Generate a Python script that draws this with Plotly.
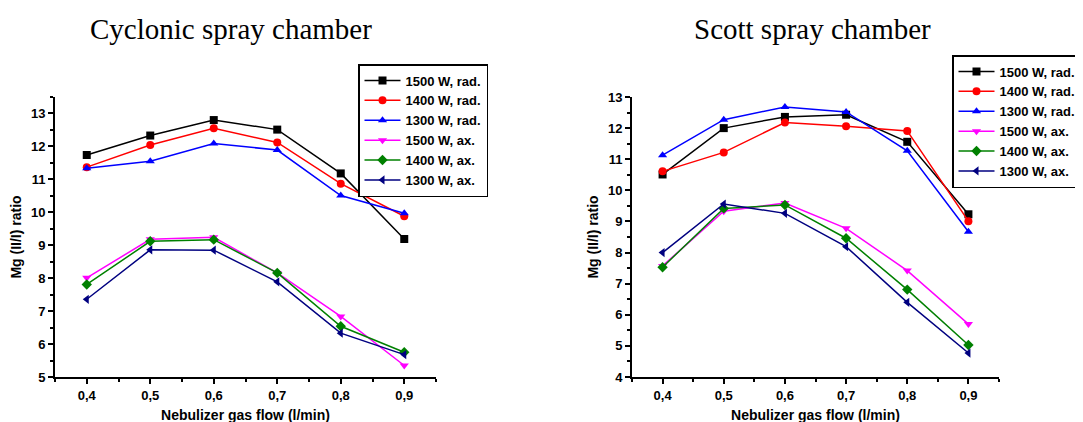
import plotly.graph_objects as go

x_flow = [0.4, 0.5, 0.6, 0.7, 0.8, 0.9]
x_tick_vals = [0.4, 0.5, 0.6, 0.7, 0.8, 0.9]
x_tick_text = ["0,4", "0,5", "0,6", "0,7", "0,8", "0,9"]

series_names = ["1500 W, rad.", "1400 W, rad.", "1300 W, rad.",
                "1500 W, ax.", "1400 W, ax.", "1300 W, ax."]

# Cyclonic spray chamber
cyc_1500_rad = [11.74, 12.33, 12.80, 12.51, 11.18, 9.19]
cyc_1400_rad = [11.37, 12.04, 12.55, 12.12, 10.87, 9.88]
cyc_1300_rad = [11.34, 11.55, 12.09, 11.89, 10.51, 9.97]
cyc_1500_ax = [8.01, 9.18, 9.24, 8.16, 6.84, 5.35]
cyc_1400_ax = [7.81, 9.12, 9.17, 8.16, 6.54, 5.75]
cyc_1300_ax = [7.36, 8.86, 8.85, 7.89, 6.33, 5.68]

# Scott spray chamber
sco_1500_rad = [10.51, 12.00, 12.36, 12.43, 11.56, 9.23]
sco_1400_rad = [10.61, 11.22, 12.18, 12.06, 11.91, 9.01]
sco_1300_rad = [11.13, 12.27, 12.68, 12.52, 11.27, 8.67]
sco_1500_ax = [7.57, 9.33, 9.59, 8.78, 7.42, 5.70]
sco_1400_ax = [7.53, 9.42, 9.53, 8.46, 6.81, 5.03]
sco_1300_ax = [8.00, 9.56, 9.26, 8.19, 6.40, 4.77]

left_y_ticks = [5, 6, 7, 8, 9, 10, 11, 12, 13]
right_y_ticks = [4, 5, 6, 7, 8, 9, 10, 11, 12, 13]

cyc_series = [cyc_1500_rad, cyc_1400_rad, cyc_1300_rad, cyc_1500_ax, cyc_1400_ax, cyc_1300_ax]
sco_series = [sco_1500_rad, sco_1400_rad, sco_1300_rad, sco_1500_ax, sco_1400_ax, sco_1300_ax]

colors = ["#000000", "#FF0000", "#0000FF", "#FF00FF", "#008000", "#000080"]
symbols = ["square", "circle", "triangle-up", "triangle-down", "diamond", "triangle-left"]

W, H = 1083, 422
OFF = 8  # page body margin offset


def px(x):
    return (x - OFF) / W


def py(y):
    return 1 - (y - OFF) / H


def b(t):
    return "<b>%s</b>" % t


fig = go.Figure()

for name, vals, c, s in zip(series_names, cyc_series, colors, symbols):
    fig.add_trace(go.Scatter(x=x_flow, y=vals, name=b(name), mode="lines+markers",
                             line=dict(color=c, width=1.5),
                             marker=dict(symbol=s, size=8, color=c),
                             xaxis="x", yaxis="y", legend="legend"))
for name, vals, c, s in zip(series_names, sco_series, colors, symbols):
    fig.add_trace(go.Scatter(x=x_flow, y=vals, name=b(name), mode="lines+markers",
                             line=dict(color=c, width=1.5),
                             marker=dict(symbol=s, size=8, color=c),
                             xaxis="x2", yaxis="y2", legend="legend2"))

FAM = "Arial, Liberation Sans"
tick_font = dict(family=FAM, size=13, color="black")
title_font = dict(family=FAM, size=14, color="black")
legend_font = dict(family=FAM, size=13, color="black")


def xaxis(domain, anchor):
    return dict(domain=domain, anchor=anchor, range=[0.35, 0.95],
                tickvals=x_tick_vals, ticktext=[b(t) for t in x_tick_text],
                ticks="outside", ticklen=5, tickwidth=1.5, tickcolor="black",
                showline=True, linecolor="black", linewidth=2,
                showgrid=False, zeroline=False,
                minor=dict(ticks="outside", dtick=0.05, tick0=0.35, ticklen=3,
                           tickwidth=1.5, tickcolor="black", showgrid=False),
                tickfont=tick_font,
                title=dict(text=b("Nebulizer gas flow (l/min)"), font=title_font, standoff=9))


def yaxis(domain, anchor, rng, tv):
    return dict(domain=domain, anchor=anchor, range=rng,
                tickvals=tv, ticktext=[b(v) for v in tv],
                ticks="outside", ticklen=5, tickwidth=1.5, tickcolor="black",
                showline=True, linecolor="black", linewidth=2,
                showgrid=False, zeroline=False,
                minor=dict(ticks="outside", dtick=0.5, ticklen=3,
                           tickwidth=1.5, tickcolor="black", showgrid=False),
                tickfont=tick_font,
                title=dict(text=b("Mg (II/I) ratio"), font=title_font, standoff=6))


ydom = [py(377), py(97)]

fig.update_layout(
    width=W, height=H,
    margin=dict(l=0, r=0, t=0, b=0, autoexpand=False),
    paper_bgcolor="white", plot_bgcolor="white",
    xaxis=xaxis([px(55), px(436)], "y"),
    yaxis=yaxis(ydom, "x", [5, 13.5], left_y_ticks),
    xaxis2=xaxis([px(632), px(999)], "y2"),
    yaxis2=yaxis(ydom, "x2", [4, 13], right_y_ticks),
    legend=dict(x=px(358), y=py(64), xanchor="left", yanchor="top",
                bordercolor="black", borderwidth=1.5, bgcolor="white",
                font=legend_font, itemwidth=36, tracegroupgap=0),
    legend2=dict(x=px(952), y=py(55), xanchor="left", yanchor="top",
                 bordercolor="black", borderwidth=1.5, bgcolor="white",
                 font=legend_font, itemwidth=36, tracegroupgap=0),
    annotations=[
        dict(text="Cyclonic spray chamber", x=px(231), y=py(29),
             xref="paper", yref="paper", showarrow=False, xanchor="center", yanchor="middle",
             font=dict(family="Liberation Serif", size=29, color="black")),
        dict(text="Scott spray chamber", x=px(812), y=py(29),
             xref="paper", yref="paper", showarrow=False, xanchor="center", yanchor="middle",
             font=dict(family="Liberation Serif", size=29, color="black")),
    ],
)

fig.write_html("out.html")
